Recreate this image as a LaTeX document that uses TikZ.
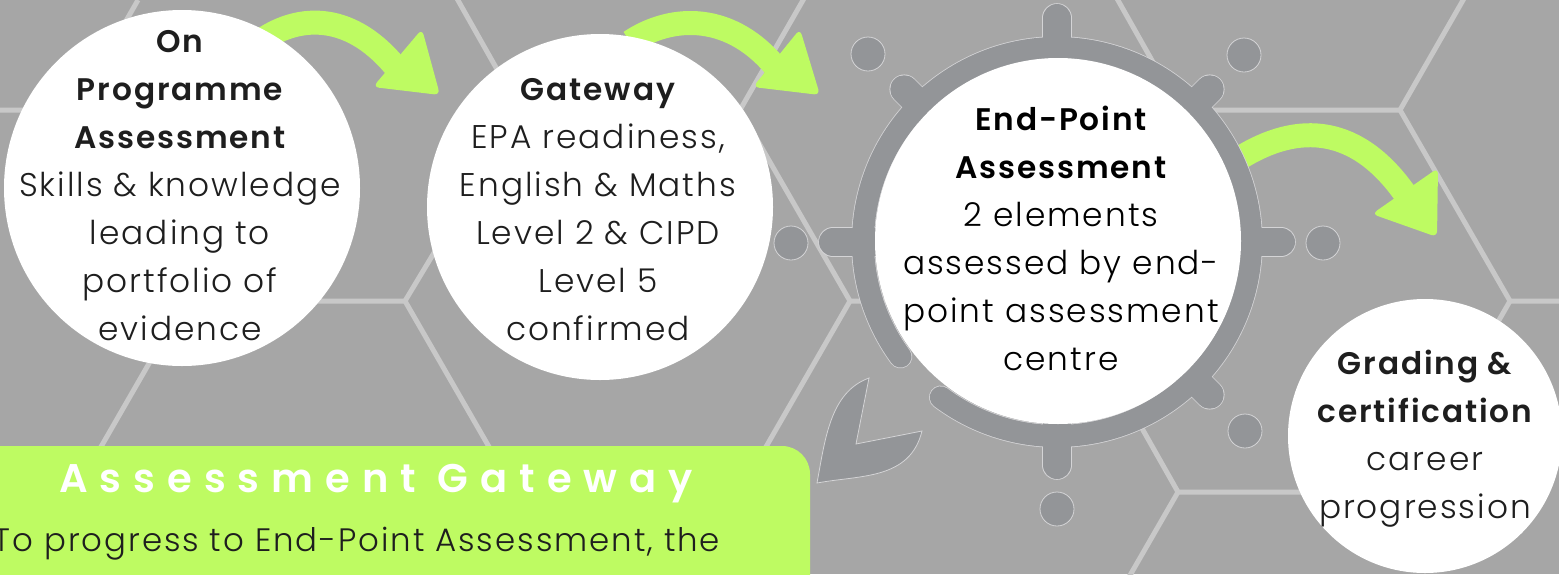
\documentclass[tikz,border=0pt]{standalone}
\usepackage{fontspec}
\setmainfont{Poppins Light}[BoldFont={Poppins SemiBold},LetterSpace=6]
\newfontfamily\spacedfont{Poppins SemiBold}[LetterSpace=30]
\definecolor{bgc}{HTML}{A6A6A6}
\definecolor{hexc}{HTML}{C8C8C8}
\definecolor{gearc}{HTML}{939598}
\definecolor{edgec}{HTML}{D4D4D6}
\definecolor{limec}{HTML}{BEFB62}
\definecolor{inkc}{HTML}{1E1E1E}
\newcommand{\hd}[1]{{\fontsize{15.6}{24}\selectfont\bfseries #1}}
\tikzset{
  hexline/.style={draw=hexc,line width=2.5pt,line join=miter},
  limebody/.style={draw=limec,line width=12pt},
  limehead/.style={fill=limec,rounded corners=3pt},
  bubble/.style={circle,fill=white,inner sep=0pt},
  bubbletext/.style={inner sep=0pt,align=center,text=inkc,font=\fontsize{16.4}{24}\selectfont},
  gdot/.style={circle,fill=gearc,draw=edgec,line width=0.4pt,inner sep=0pt,minimum size=17pt},
}
\begin{document}
\begin{tikzpicture}[x=0.5pt,y=-0.5pt]
\useasboundingbox (0,0) rectangle (1559,574);
\clip (0,0) rectangle (1559,574);
\fill[bgc] (0,0) rectangle (1559,574);
% hexagon lattice
\draw[hexline] (-20,110) -- (75,110) -- (138,0);
\draw[hexline] (75,110) -- (185,301) -- (405,301) -- (520,110) -- (740,110) -- (850,301) -- (1070,301) -- (1180,110) -- (1400,110) -- (1510,301) -- (1580,301);
\draw[hexline] (185,301) -- (60,518);
\draw[hexline] (405,301) -- (530,518);
\draw[hexline] (520,110) -- (455,-5);
\draw[hexline] (740,110) -- (806,-5);
\draw[hexline] (850,301) -- (725,518);
\draw[hexline] (1180,110) -- (1115,-5);
\draw[hexline] (1400,110) -- (1466,-5);
\draw[hexline] (1070,301) -- (1178,492) -- (1400,492) -- (1510,301);
\draw[hexline] (1178,492) -- (1125,584);
% green panel
\fill[limec,rounded corners=14pt] (-40,446) rectangle (810,640);
% green arrows
\draw[limebody] (262,40) .. controls (300,14) and (352,12) .. (398,70);
\fill[limehead] (422,29) -- (440,95) -- (373,87) -- cycle;
\draw[limebody] (630,42) .. controls (672,14) and (732,12) .. (778,70);
\fill[limehead] (800,29) -- (820,95) -- (753,87) -- cycle;
\draw[limebody] (1240,158) .. controls (1298,122) and (1358,124) .. (1408,198);
\fill[limehead] (1438,168) -- (1437,237) -- (1372,214) -- cycle;
% gear
\coordinate (gc) at (1057,242);
\foreach \a/\l in {0/224,90/223,180/224,270/224,45/216,-45/216,-135/216}{
  \draw[edgec,line width=14.8pt,line cap=round] (gc) -- ++(\a:\l);
}
\draw[edgec,line width=11.8pt,line cap=round] (gc) ++(143.8:194) arc (143.8:486.8:194);
\foreach \a/\l in {0/224,90/223,180/224,270/224,45/216,-45/216,-135/216}{
  \draw[gearc,line width=14pt,line cap=round] (gc) -- ++(\a:\l);
}
\draw[gearc,line width=11pt,line cap=round] (gc) ++(143.8:194) arc (143.8:486.8:194);
\node[gdot] (d1) at (868,54) {};
\node[gdot] (d2) at (1244,55) {};
\node[gdot] (d3) at (791,243) {};
\node[gdot] (d4) at (1323,243) {};
\node[gdot] (d5) at (1245,431) {};
\node[gdot] (d6) at (1057,509) {};
% grey arrow
\filldraw[fill=gearc,draw=edgec,line width=0.4pt] (869,378) .. controls (830,392) and (825,440) .. (817,483) .. controls (860,475) and (910,480) .. (922,431) -- (856,444) -- cycle;
% bubbles
\node[bubble,minimum size=178pt] (onprog) at (182,188) {};
\node[bubble,minimum size=173pt] (gate) at (600,207) {};
\node[bubble,minimum size=183pt] (epa) at (1058,241) {};
\node[bubble,minimum size=137pt] (grade) at (1425,436) {};
\node[bubbletext] (onprogtext) at (180,186) {\hd{On}\\\hd{Programme}\\\hd{Assessment}\\Skills \& knowledge\\leading to\\portfolio of\\evidence};
\node[bubbletext] (gatetext) at (598,209.5) {\hd{Gateway}\\EPA readiness,\\English \& Maths\\Level 2 \& CIPD\\Level 5\\confirmed};
\node[bubbletext,text=black] (epatext) at (1061,238.5) {\hd{End-Point}\\\hd{Assessment}\\2 elements\\assessed by end-\\point assessment\\centre};
\node[bubbletext] (gradetext) at (1425,439) {\hd{Grading \&}\\\hd{certification}\\career\\progression};
\node[text=white,font=\fontsize{20}{24}\spacedfont,inner sep=0pt] (title) at (376,484) {Assessment Gateway};
\node[text=inkc,font=\fontsize{16.2}{24}\selectfont,inner sep=0pt] (line) at (357,544) {To progress to End-Point Assessment, the};
\end{tikzpicture}
\end{document}
